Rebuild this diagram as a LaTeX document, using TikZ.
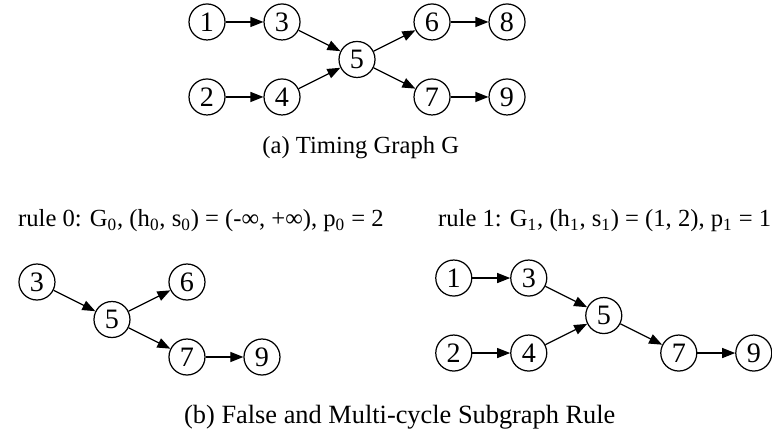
\documentclass[tikz,border=0pt]{standalone}
\usepackage{fontspec}
\setmainfont{Liberation Serif}
\usetikzlibrary{arrows.meta}
\begin{document}
\begin{tikzpicture}[x=1.5cm, y=1.5cm, every node/.style={font=\fontsize{14}{16}\selectfont},
  vtx/.style={circle, draw, line width=0.7pt, minimum size=0.72cm, inner sep=0pt, font=\fontsize{16}{18}\selectfont},
  arc/.style={line width=0.7pt, -{Triangle[length=2.6mm,width=2mm]}}]
\useasboundingbox (0,0) rectangle (10.293,-5.8);
% (a) timing graph
\begin{scope}[shift={(2.76,-0.293)}]
\node[vtx] (a1) at (0,0) {1}; \node[vtx] (a3) at (1,0) {3};
\node[vtx] (a2) at (0,-1) {2}; \node[vtx] (a4) at (1,-1) {4};
\node[vtx] (a5) at (2,-0.5) {5};
\node[vtx] (a6) at (3,0) {6}; \node[vtx] (a8) at (4,0) {8};
\node[vtx] (a7) at (3,-1) {7}; \node[vtx] (a9) at (4,-1) {9};
\draw[arc] (a1)--(a3); \draw[arc] (a2)--(a4);
\draw[arc] (a3)--(a5); \draw[arc] (a4)--(a5);
\draw[arc] (a5)--(a6); \draw[arc] (a5)--(a7);
\draw[arc] (a6)--(a8); \draw[arc] (a7)--(a9);
\end{scope}
\node[anchor=base] (capa) at (4.81,-2.053) {(a) Timing Graph G};
% rule 0
\node[anchor=base west] (rule0) at (0.16,-3.023) {rule 0: G\textsubscript{0}, (h\textsubscript{0}, s\textsubscript{0}) = (-∞, +∞), p\textsubscript{0} = 2};
\begin{scope}[shift={(0.493,-3.76)}]
\node[vtx] (b3) at (0,0) {3}; \node[vtx] (b5) at (1,-0.5) {5};
\node[vtx] (b6) at (2,0) {6}; \node[vtx] (b7) at (2,-1) {7};
\node[vtx] (b9) at (3,-1) {9};
\draw[arc] (b3)--(b5); \draw[arc] (b5)--(b6);
\draw[arc] (b5)--(b7); \draw[arc] (b7)--(b9);
\end{scope}
% rule 1
\node[anchor=base west] (rule1) at (5.76,-3.023) {rule 1: G\textsubscript{1}, (h\textsubscript{1}, s\textsubscript{1}) = (1, 2), p\textsubscript{1} = 1};
\begin{scope}[shift={(6.05,-3.707)}]
\node[vtx] (c1) at (0,0) {1}; \node[vtx] (c3) at (1,0) {3};
\node[vtx] (c2) at (0,-1) {2}; \node[vtx] (c4) at (1,-1) {4};
\node[vtx] (c5) at (2,-0.5) {5};
\node[vtx] (c7) at (3,-1) {7}; \node[vtx] (c9) at (4,-1) {9};
\draw[arc] (c1)--(c3); \draw[arc] (c2)--(c4);
\draw[arc] (c3)--(c5); \draw[arc] (c4)--(c5);
\draw[arc] (c5)--(c7); \draw[arc] (c7)--(c9);
\end{scope}
\node[anchor=base west, font=\fontsize{15}{17}\selectfont] (capb) at (2.373,-5.64) {(b) False and Multi-cycle Subgraph Rule};
\end{tikzpicture}
\end{document}
